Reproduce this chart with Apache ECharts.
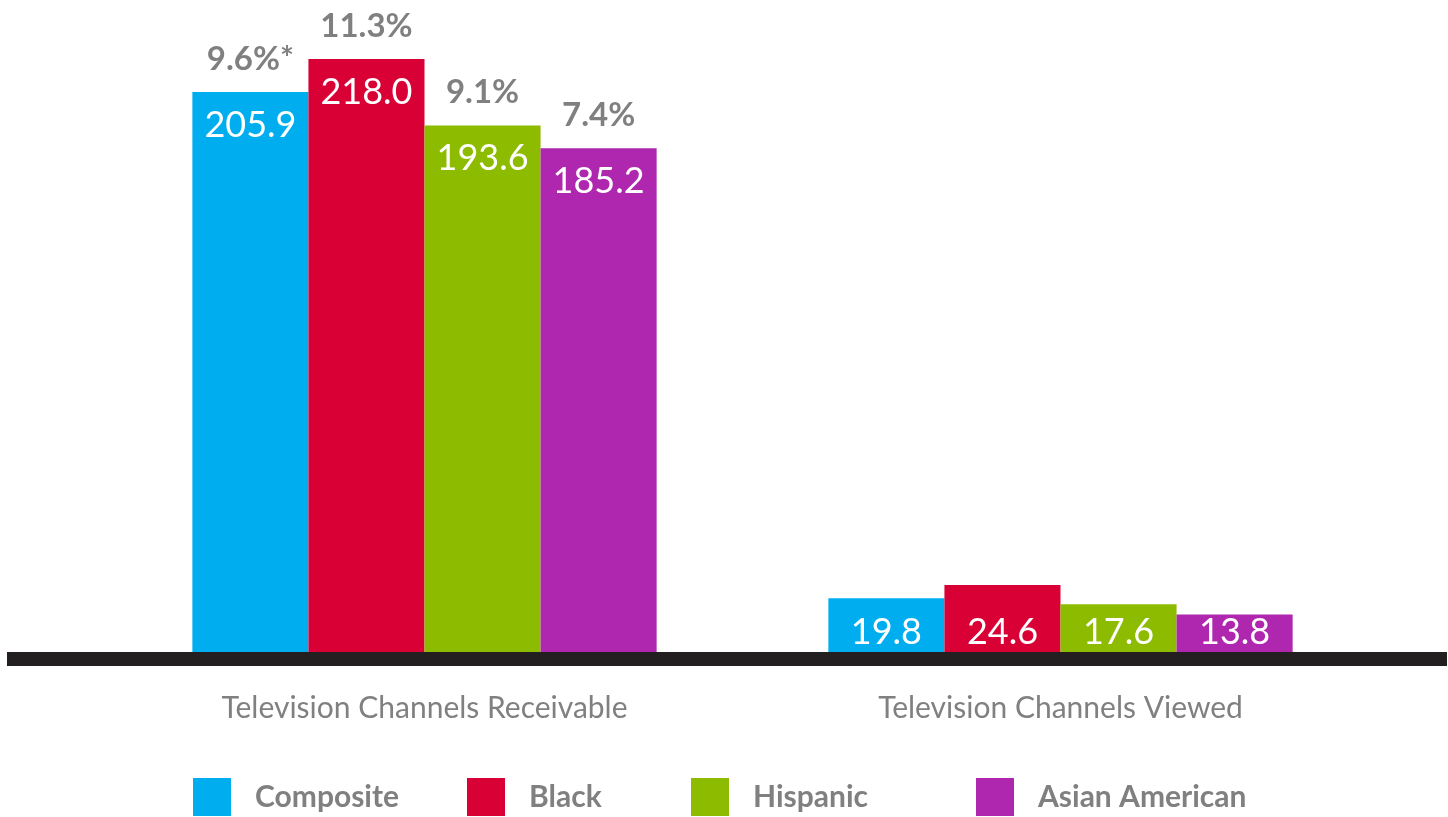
<!DOCTYPE html>
<html>
<head>
<meta charset="utf-8">
<script src="https://cdn.jsdelivr.net/npm/echarts@6/dist/echarts.min.js"></script>
<style>
  html, body { margin: 0; padding: 0; background: #fff; }
  #chart { width: 1448px; height: 817px; }
</style>
</head>
<body>
<div id="chart"></div>
<script>
const categories = ['Television Channels Receivable', 'Television Channels Viewed'];
const seriesNames = ['Composite', 'Black', 'Hispanic', 'Asian American'];
const composite = [205.9, 19.8];
const black = [218.0, 24.6];
const hispanic = [193.6, 17.6];
const asianAmerican = [185.2, 13.8];
// percentage labels above the first group of bars
const pctLabels = ['9.6%*', '11.3%', '9.1%', '7.4%'];
const colors = ['#00aeef', '#d90036', '#8cbb00', '#ae27ae'];
const legendLeft = [193, 467, 691, 976];

const values = [composite, black, hispanic, asianAmerican];
const font = 'Lato, "Open Sans", sans-serif';

const chart = echarts.init(document.getElementById('chart'));

const series = seriesNames.map((name, i) => ({
  name: name,
  type: 'bar',
  barGap: '0%',
  barCategoryGap: '27%',
  itemStyle: { color: colors[i] },
  data: values[i].map((v, j) => {
    if (j === 0) {
      return {
        value: v,
        label: {
          show: true,
          position: 'insideTop',
          distance: 0,
          offset: [0, -66],
          formatter: '{p|' + pctLabels[i] + '}\n{v|' + v.toFixed(1) + '}',
          rich: {
            p: { fontFamily: font, fontSize: 33, fontWeight: 'bold', color: '#808080', lineHeight: 66 },
            v: { fontFamily: font, fontSize: 36, color: '#fff', lineHeight: 66 }
          }
        }
      };
    }
    return {
      value: v,
      label: {
        show: true,
        position: 'insideBottom',
        distance: 0,
        formatter: v.toFixed(1),
        fontFamily: font,
        fontSize: 36,
        color: '#fff',
        lineHeight: 40
      }
    };
  })
}));

const legends = seriesNames.map((name, i) => ({
  data: [name],
  left: legendLeft[i],
  top: 778,
  padding: 0,
  icon: 'rect',
  itemWidth: 38,
  itemHeight: 38,
  selectedMode: false,
  textStyle: {
    fontFamily: font,
    fontSize: 30,
    fontWeight: 'bold',
    color: '#808080',
    padding: [0, 0, 0, 19]
  }
}));

const option = {
  animation: false,
  grid: { left: 106.5, right: 69.5, top: 53.6, bottom: 165 },
  legend: legends,
  xAxis: {
    type: 'category',
    data: categories,
    axisLine: { show: false },
    axisTick: { show: false },
    axisLabel: { fontFamily: font, fontSize: 30, color: '#808080', margin: 41 }
  },
  yAxis: {
    type: 'value',
    min: 0,
    max: 220,
    show: false,
    splitLine: { show: false }
  },
  graphic: [{
    type: 'rect',
    left: 7,
    top: 652,
    shape: { width: 1440, height: 14 },
    style: { fill: '#231f20' }
  }],
  series: series
};

chart.setOption(option);
window.addEventListener('resize', () => chart.resize());
</script>
</body>
</html>
